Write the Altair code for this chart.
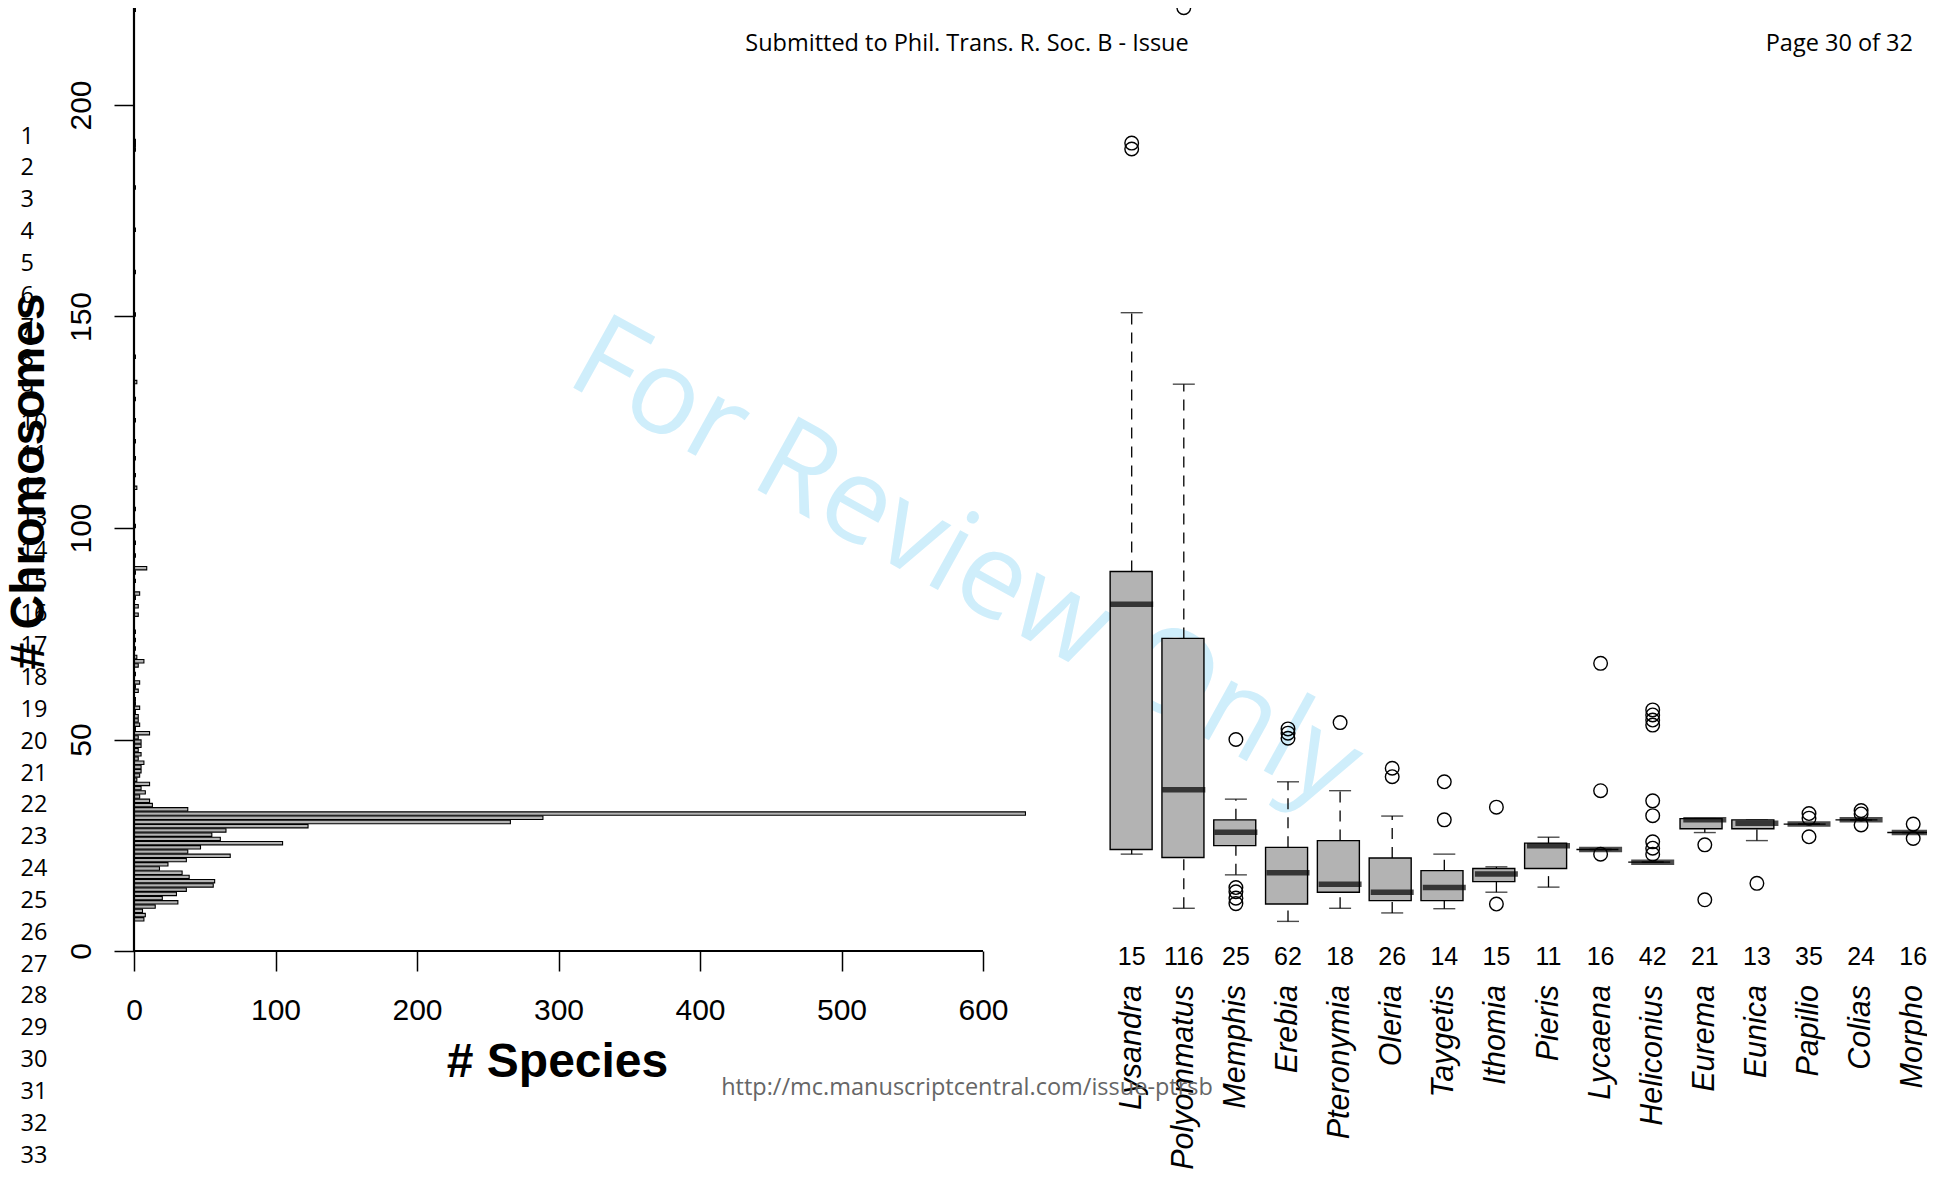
import altair as alt
import pandas as pd

# ---------------- data ----------------
# histogram of chromosome numbers: lower bin edge and number of species
bin_lo = list(range(7, 60)) + [61, 62, 63, 65, 67, 68, 69, 71, 73, 75, 79, 81, 83, 84, 87, 89, 90,
                               93, 96, 100, 104, 109, 112, 116, 120, 125, 130, 134, 140, 150, 160,
                               170, 180, 189, 190, 191, 222]
bin_count = [7, 8, 6, 15, 31, 20, 30, 37, 56, 57, 39, 34, 18, 24, 37, 68, 38, 47, 105, 61, 55, 65,
             123, 266, 289, 630, 38, 13, 11, 4, 8, 5, 11, 2, 4, 5, 5, 7, 3, 5, 3, 5, 5, 3, 11, 1,
             4, 3, 3, 1, 4, 1, 1,
             3, 1, 4, 1, 3, 7, 2, 1, 1, 1, 3, 3, 1, 4, 1, 1, 9, 1, 1, 1, 1, 2, 1, 1, 1, 1, 1, 2,
             1, 1, 1, 1, 1, 1, 1, 1, 1]

x_ticks = [0, 100, 200, 300, 400, 500, 600]
y_ticks = [0, 50, 100, 150, 200]

genera = ["Lysandra", "Polyommatus", "Memphis", "Erebia", "Pteronymia", "Oleria", "Taygetis",
          "Ithomia", "Pieris", "Lycaena", "Heliconius", "Eurema", "Eunica", "Papilio", "Colias",
          "Morpho"]
n_species = [15, 116, 25, 62, 18, 26, 14, 15, 11, 16, 42, 21, 13, 35, 24, 16]
whisk_lo = [22.9, 10.1, 18.0, 7.0, 10.1, 9.0, 10.0, 13.9, 15.1, 24.0, 21.0, 28.0, 26.1, 30.0, 31.0, 28.0]
q1 = [24.0, 22.1, 24.9, 11.1, 13.9, 11.9, 11.9, 16.4, 19.5, 24.0, 21.0, 28.9, 28.9, 30.0, 31.0, 28.0]
median = [82.0, 38.1, 28.1, 18.5, 15.8, 13.9, 15.0, 18.2, 24.9, 24.0, 21.0, 31.0, 30.2, 30.0, 31.0, 28.0]
q3 = [89.7, 73.9, 31.0, 24.5, 26.1, 22.0, 19.0, 19.5, 25.5, 24.0, 21.0, 31.3, 31.0, 30.0, 31.0, 28.0]
whisk_hi = [150.9, 134.0, 35.9, 40.0, 37.9, 31.9, 22.9, 19.9, 26.9, 24.0, 21.0, 31.3, 31.0, 30.0, 31.0, 28.0]

out_genus = (["Lysandra"] * 2 + ["Polyommatus"] + ["Memphis"] * 5 + ["Erebia"] * 3 +
             ["Pteronymia"] + ["Oleria"] * 2 + ["Taygetis"] * 2 + ["Ithomia"] * 2 +
             ["Lycaena"] * 3 + ["Heliconius"] * 9 + ["Eurema"] * 2 + ["Eunica"] +
             ["Papilio"] * 3 + ["Colias"] * 3 + ["Morpho"] * 2)
out_value = [191.0, 189.6, 223.0,
             50.0, 15.0, 14.0, 12.5, 11.2,
             52.5, 51.5, 50.3,
             54.0,
             43.2, 41.2,
             40.0, 31.0,
             34.0, 11.1,
             68.0, 37.9, 22.9,
             57.0, 55.8, 54.6, 53.4, 35.5, 32.0, 25.8, 24.3, 22.9,
             25.1, 12.1,
             16.0,
             32.5, 31.4, 27.0,
             33.2, 32.4, 29.8,
             30.0, 26.6]

header_left = "Submitted to Phil. Trans. R. Soc. B - Issue"
header_right = "Page 30 of 32"
footer = "http://mc.manuscriptcentral.com/issue-ptrsb"
watermark = "For Review Only"
line_numbers = list(range(1, 34))

# ---------------- layout ----------------
W, H = 1793, 943
PX = 4.23                     # px per chromosome
YMAX = H / PX
XPX = 1.415                   # px per species
XMAX = W / XPX
STEP, I0 = 52.1, 997.7        # box spacing and first box centre (px)
IMIN, IMAX = -I0 / STEP, (W - I0) / STEP

FONT = "Liberation Sans"
PAGEFONT = "Open Sans"
YTITLE = "# Chromosomes"

yS = alt.Scale(domain=[0, YMAX], nice=False, zero=False)
xL = alt.Scale(domain=[0, XMAX], nice=False, zero=False)
xR = alt.Scale(domain=[IMIN, IMAX], nice=False, zero=False)

y_axis = alt.Axis(values=y_ticks, domain=False, grid=False, tickSize=20, tickWidth=1.5,
                  tickColor="black", labelFont=FONT, labelFontSize=30, labelColor="black",
                  labelAngle=270, labelAlign="center", labelBaseline="alphabetic",
                  labelPadding=24, labelFlush=False, labelOverlap=False,
                  titleFont=FONT, titleFontSize=48, titleFontWeight="bold",
                  titleColor="black", titleAngle=270, titleX=-91, titleY=473,
                  titleBaseline="alphabetic", titleAlign="center")


def Y(field):
    return alt.Y(field, scale=yS, axis=y_axis, title=YTITLE)


hist_df = pd.DataFrame({"lo": bin_lo, "count": bin_count})
box_df = pd.DataFrame({"genus": genera, "i": list(range(len(genera))), "n": n_species,
                       "lo": whisk_lo, "q1": q1, "med": median, "q3": q3, "hi": whisk_hi})
gidx = {g: k for k, g in enumerate(genera)}
out_df = pd.DataFrame({"genus": out_genus, "v": out_value})
out_df["i"] = out_df["genus"].map(gidx)

# watermark (drawn first, underneath)
wm = alt.Chart(pd.DataFrame({"t": [watermark]})).mark_text(
    font=PAGEFONT, fontSize=118, angle=29, color="#cfeefb", align="center", baseline="middle"
).encode(text="t:N", x=alt.value(831), y=alt.value(557))

# histogram bars
hist = alt.Chart(hist_df).transform_calculate(
    y0="datum.lo + 0.1", y1="datum.lo + 0.9", x0="0"
).mark_bar(fill="#b3b3b3", stroke="black", strokeWidth=1.1).encode(
    x=alt.X("x0:Q", scale=xL, title="# Species",
            axis=alt.Axis(values=x_ticks, domain=False, grid=False, tickSize=20, tickWidth=1.5,
                          tickColor="black", labelFont=FONT, labelFontSize=30, labelColor="black",
                          labelPadding=24, labelFlush=False, labelOverlap=False,
                          titleFont=FONT, titleFontSize=48, titleFontWeight="bold",
                          titleColor="black", titleX=423, titleY=125,
                          titleBaseline="alphabetic")),
    x2="count:Q",
    y=Y("y0:Q"),
    y2="y1:Q",
)

# vertical baseline of bars at 0 and x axis line
vline = alt.Chart(pd.DataFrame({"x": [0], "y0": [0], "y1": [max(bin_lo) + 1]})).mark_rule(
    color="black", strokeWidth=2.2
).encode(x=alt.X("x:Q", scale=xL, axis=None), y=Y("y0:Q"), y2="y1:Q")

xline = alt.Chart(pd.DataFrame({"x0": [min(x_ticks)], "x1": [max(x_ticks)], "y": [0]})).mark_rule(
    color="black", strokeWidth=2
).encode(x=alt.X("x0:Q", scale=xL, axis=None), x2="x1:Q", y=Y("y:Q"))

# boxplots
bx = alt.X("i:Q", scale=xR, axis=None)
wh_up = alt.Chart(box_df).mark_rule(color="black", strokeWidth=1.3, strokeDash=[11, 8]).encode(
    x=bx, y=Y("q3:Q"), y2="hi:Q")
wh_dn = alt.Chart(box_df).mark_rule(color="black", strokeWidth=1.3, strokeDash=[11, 8]).encode(
    x=bx, y=Y("lo:Q"), y2="q1:Q")
cap_up = alt.Chart(box_df).mark_tick(orient="horizontal", size=22, thickness=1.4, color="black").encode(
    x=bx, y=Y("hi:Q"))
cap_dn = alt.Chart(box_df).mark_tick(orient="horizontal", size=22, thickness=1.4, color="black").encode(
    x=bx, y=Y("lo:Q"))
boxes = alt.Chart(box_df).mark_bar(size=42, fill="#b3b3b3", stroke="black", strokeWidth=1.4).encode(
    x=bx, y=Y("q1:Q"), y2="q3:Q")
meds = alt.Chart(box_df).mark_tick(orient="horizontal", size=43, thickness=5.5, color="black").encode(
    x=bx, y=Y("med:Q"))
outs = alt.Chart(out_df).mark_point(shape="circle", filled=False, size=185, color="black",
                                    strokeWidth=1.4, opacity=1).encode(
    x=alt.X("i:Q", scale=xR, axis=None), y=Y("v:Q"))

counts = alt.Chart(box_df).mark_text(font=FONT, fontSize=25, color="black", align="center",
                                     baseline="middle").encode(
    x=bx, y=alt.value(949), text="n:N")
names = alt.Chart(box_df).mark_text(font=FONT, fontSize=30.5, fontStyle="italic", color="black",
                                    angle=270, align="right", baseline="middle").encode(
    x=bx, y=alt.value(977), text="genus:N")

# page decorations
hdr = alt.Chart(pd.DataFrame({"t": [header_left]})).mark_text(
    font=PAGEFONT, fontSize=23.5, color="black", align="center", baseline="alphabetic"
).encode(text="t:N", x=alt.value(833), y=alt.value(42.6))
pg = alt.Chart(pd.DataFrame({"t": [header_right]})).mark_text(
    font=PAGEFONT, fontSize=23.5, color="black", align="right", baseline="alphabetic"
).encode(text="t:N", x=alt.value(1779), y=alt.value(42.6))
ftr = alt.Chart(pd.DataFrame({"t": [footer]})).mark_text(
    font=PAGEFONT, fontSize=23.5, color="#666666", align="center", baseline="alphabetic"
).encode(text="t:N", x=alt.value(833), y=alt.value(1087))

ln_df = pd.DataFrame({"num": line_numbers})
ln_df["v"] = (H - (135.5 + 31.85 * (ln_df["num"] - 1))) / PX
lines = alt.Chart(ln_df).mark_text(font=PAGEFONT, fontSize=23.5, color="black", align="left",
                                   baseline="alphabetic").encode(
    x=alt.value(-113.5), y=Y("v:Q"), text="num:N")

chart = alt.layer(
    wm, hist, vline, xline, wh_up, wh_dn, cap_up, cap_dn, boxes, meds, outs, counts, names,
    hdr, pg, ftr, lines
).resolve_scale(x="independent").properties(
    width=W, height=H,
    padding={"left": 126, "top": 0, "right": 0, "bottom": 219},
    autosize=alt.AutoSizeParams(type="none"),
    background="white",
).configure_view(stroke=None)

chart.save("out.html", embed_options={"renderer": "svg", "actions": False})
